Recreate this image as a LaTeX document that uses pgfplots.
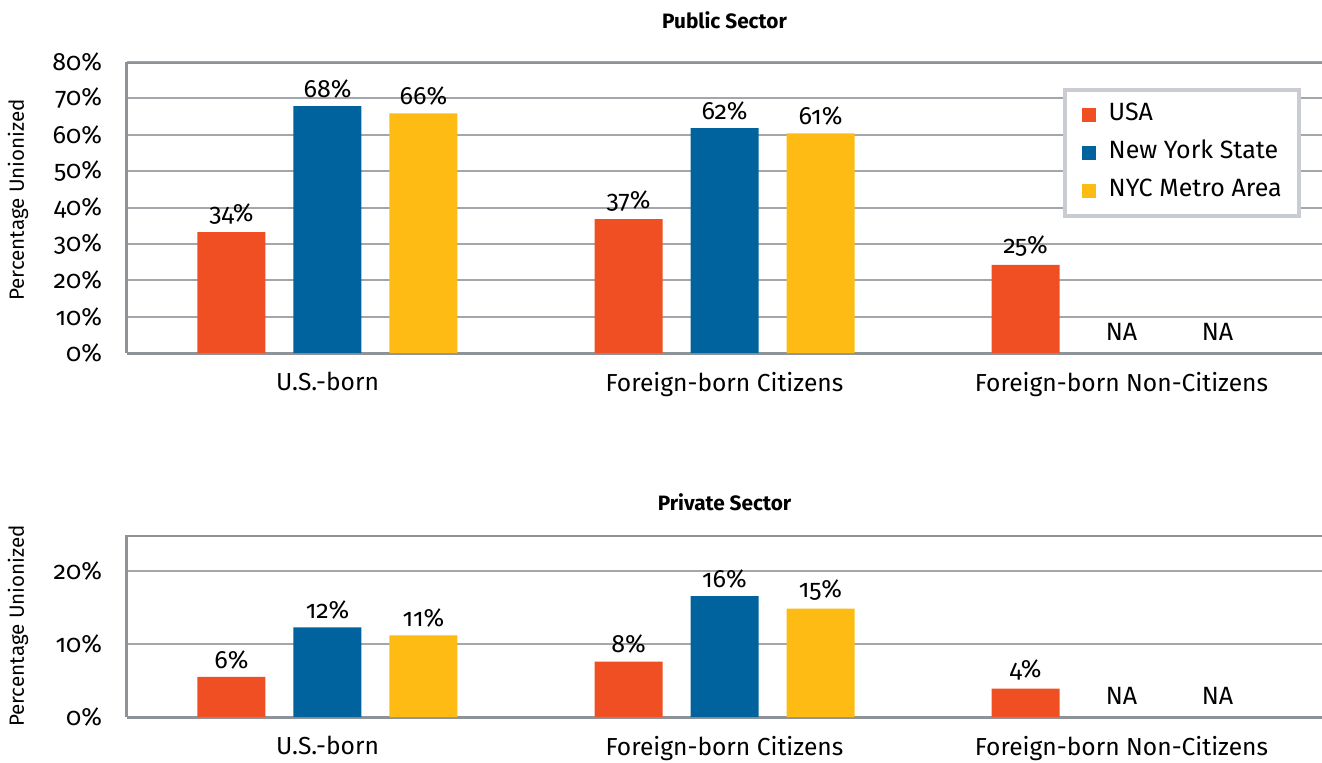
\documentclass[border=0pt]{standalone}
\usepackage{pgfplots}
\pgfplotsset{compat=1.18}
\usepackage{fontspec}
\setmainfont{Fira Sans}[Numbers=OldStyle]
\newfontfamily\cf{Fira Sans}[Numbers=OldStyle]
\newcommand{\os}[1]{\mbox{\cf #1}}
\definecolor{cusa}{HTML}{F04E23}
\definecolor{cnys}{HTML}{00639E}
\definecolor{cnyc}{HTML}{FDBB13}
\definecolor{framegray}{HTML}{8E9398}
\definecolor{gridgray}{HTML}{A3A7AB}
\definecolor{leggray}{HTML}{C9CDD1}
\pgfplotsset{
  mystyle/.style={
    scale only axis, width=597.5pt,
    xmin=-0.505, xmax=2.505, ymin=0,
    ybar=14pt, bar width=34pt,
    axis x line*=bottom, axis y line*=left,
    axis line style={framegray, line width=1.5pt},
    ymajorgrids, grid style={gridgray, line width=1pt},
    xtick={0,1,2},
    xticklabels={U.S.-born, Foreign-born Citizens, Foreign-born Non-Citizens},
    major tick length=0pt,
    yticklabel style={font=\cf\fontsize{12.5}{14}\selectfont, xshift=-9pt},
    xticklabel style={font=\cf\fontsize{12.3}{14}\selectfont, yshift=-6pt},
    ylabel={Percentage Unionized},
    ylabel style={font=\cf\fontsize{10.3}{12}\selectfont, anchor=center},
    point meta=explicit symbolic,
    nodes near coords={\os{\pgfplotspointmeta}},
    every node near coord/.append style={font=\cf\fontsize{12.5}{14}\selectfont, text=black, yshift=0.5pt},
    title style={font=\cf\bfseries\fontsize{10.4}{12}\selectfont, at={(axis description cs:0.5,1)}, anchor=center},
  },
  barstyle/.style={fill=#1, draw=none},
  nastyle/.style={draw=none, fill=none, forget plot, bar shift=#1,
    every node near coord/.append style={yshift=2pt}},
}
\begin{document}
\begin{tikzpicture}
\begin{axis}[mystyle, height=145.5pt, ymax=80,
  ytick={0,10,...,80},
  yticklabels={\os{0\%},\os{10\%},\os{20\%},\os{30\%},\os{40\%},\os{50\%},\os{60\%},\os{70\%},\os{80\%}},
  title={Public Sector}, title style={yshift=15pt},
  ylabel style={at={(axis description cs:-0.0912,0.526)}},
  legend style={at={(axis description cs:0.783,0.911)}, anchor=north west,
    draw=leggray, line width=2pt, fill=white, font=\cf\fontsize{12.5}{14}\selectfont,
    nodes={inner sep=0pt, text height=9pt, text depth=3pt},
    row sep=7pt, column sep=6.5pt, inner xsep=8.5pt, inner ysep=6.5pt, legend cell align=left},
  legend image code/.code={\fill[#1,draw=none] (0pt,-3.5pt) rectangle (7pt,3.5pt);},
]
\addplot[barstyle=cusa, bar shift=-48pt] coordinates {(0,33.2) [34\%] (1,36.8) [37\%] (2,24.2) [25\%]};
\addplot[barstyle=cnys, bar shift=0pt] coordinates {(0,67.9) [68\%] (1,61.8) [62\%]};
\addplot[barstyle=cnyc, bar shift=48pt] coordinates {(0,65.9) [66\%] (1,60.4) [61\%]};
\legend{USA, New York State, NYC Metro Area}
\addplot[nastyle=0pt] coordinates {(2,0) [NA]};
\addplot[nastyle=48pt] coordinates {(2,0) [NA]};
\draw[framegray, line width=1.5pt] (rel axis cs:0,1) -- (rel axis cs:1,1);
\end{axis}
\begin{axis}[mystyle, at={(0pt,-182pt)}, height=91pt, ymax=25,
  ytick={0,10,20},
  yticklabels={\os{0\%},\os{10\%},\os{20\%}},
  title={Private Sector}, title style={yshift=10.5pt},
  ylabel style={at={(axis description cs:-0.0912,0.5)}},
]
\addplot[barstyle=cusa, bar shift=-48pt] coordinates {(0,5.5) [6\%] (1,7.6) [8\%] (2,3.9) [4\%]};
\addplot[barstyle=cnys, bar shift=0pt] coordinates {(0,12.3) [12\%] (1,16.6) [16\%]};
\addplot[barstyle=cnyc, bar shift=48pt] coordinates {(0,11.2) [11\%] (1,14.9) [15\%]};
\addplot[nastyle=0pt] coordinates {(2,0) [NA]};
\addplot[nastyle=48pt] coordinates {(2,0) [NA]};
\draw[framegray, line width=1.5pt] (rel axis cs:0,1) -- (rel axis cs:1,1);
\end{axis}
\pgfresetboundingbox
\useasboundingbox (-63.5pt,-204.5pt) rectangle (597.5pt,176.5pt);
\end{tikzpicture}
\end{document}
